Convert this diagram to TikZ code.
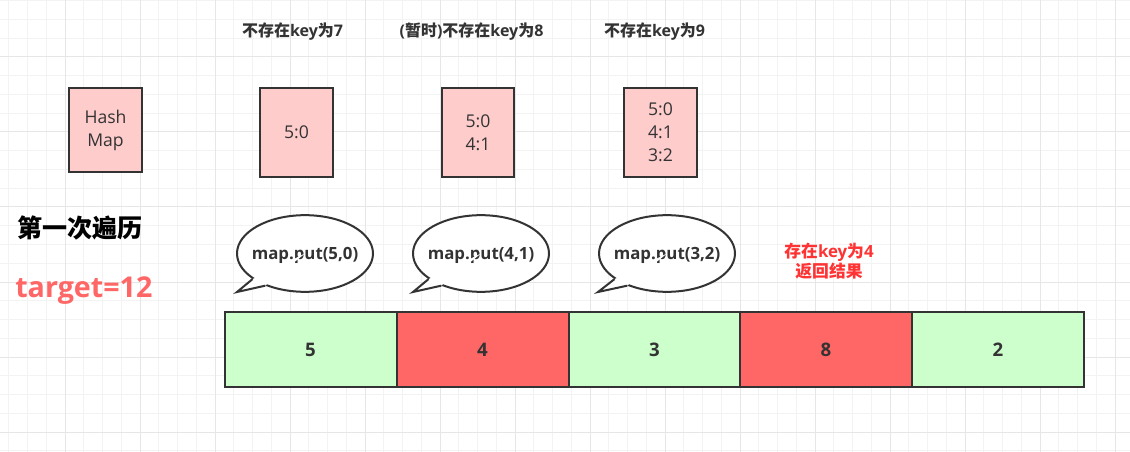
\documentclass[tikz,border=0pt]{standalone}
\usepackage{fontspec}
\setmainfont{Open Sans}
\newfontfamily\cjk{Noto Sans CJK SC}
\usetikzlibrary{shapes.geometric}
\definecolor{dk}{HTML}{333333}
\definecolor{pinkf}{HTML}{FFCCCC}
\definecolor{greenf}{HTML}{CCFFCC}
\definecolor{redf}{HTML}{FF6666}
\definecolor{redt}{HTML}{FF3333}
\definecolor{gminor}{HTML}{F3F3F3}
\definecolor{gmajor}{HTML}{E6E6E6}
\tikzset{
  mapbox/.style={draw=dk, line width=1.5pt, fill=pinkf, minimum width=54.5pt, minimum height=66.5pt, align=center, text=dk, font=\fontsize{13.2}{17.3}\selectfont, inner sep=0pt},
  title/.style={text=dk, font=\fontsize{12}{14}\selectfont\bfseries, inner sep=0pt},
  bubble/.style={ellipse, draw=dk, line width=1.5pt, fill=white, minimum width=102pt, minimum height=57.5pt, inner sep=0pt},
  bubtext/.style={inner sep=0pt, text=dk, font=\fontsize{12.6}{16}\selectfont\bfseries},
  cell/.style={draw=dk, line width=1.5pt, minimum width=129pt, minimum height=56pt, inner sep=0pt, text=dk, font=\fontsize{14}{16}\selectfont\bfseries},
}
\begin{document}
\begin{tikzpicture}[x=0.75pt,y=-0.75pt]
\useasboundingbox (0,0) rectangle (1130,452);
\fill[white] (0,0) rectangle (1130,452);
% grid
\foreach \i in {0,...,60} {
  \draw[gminor, line width=0.75pt] ({8.75+18.75*\i},0) -- ({8.75+18.75*\i},452);
}
\foreach \i in {0,...,24} {
  \draw[gminor, line width=0.75pt] (0,{0.75+18.75*\i}) -- (1130,{0.75+18.75*\i});
}
\foreach \i in {0,...,15} {
  \draw[gmajor, line width=0.75pt] ({65+75*\i},0) -- ({65+75*\i},452);
}
\foreach \i in {0,...,5} {
  \draw[gmajor, line width=0.75pt] (0,{57+75*\i}) -- (1130,{57+75*\i});
}
% titles
\node[title] (t1) at (292.5,32) {{\cjk 不存在}key{\cjk 为}7};
\node[title] (t2) at (471.5,32) {({\cjk 暂时}){\cjk 不存在}key{\cjk 为}8};
\node[title] (t3) at (654.5,32) {{\cjk 不存在}key{\cjk 为}9};
% map boxes
\node[mapbox, minimum height=63pt] (hm) at (105.5,130) {Hash\\Map};
\node[mapbox] (m1) at (296.5,132.5) {5:0};
\node[mapbox] (m2) at (478,132.5) {5:0\\4:1};
\node[mapbox] (m3) at (660.5,132.5) {5:0\\4:1\\3:2};
% left labels
\node[anchor=west, inner sep=0pt, font=\fontsize{18.8}{21}\selectfont\bfseries\cjk] (lbl) at (17,228) {第一次遍历};
\node[anchor=west, inner sep=0pt, text=redf, font=\fontsize{21.5}{24}\selectfont\bfseries] (tg) at (15,291) {target=12};
% bubbles
\node[bubble, label={[bubtext, yshift=-1.5pt]center:{map.put(5,0)}}] (b1) at (305,253.5) {};
\node[bubble, label={[bubtext, yshift=-1.5pt]center:{map.put(4,1)}}] (b2) at (481,253.5) {};
\node[bubble, label={[bubtext, yshift=-1.5pt]center:{map.put(3,2)}}] (b3) at (667,253.5) {};
\foreach \b/\tx in {b1/237,b2/413,b3/598} {
  \coordinate (\b tip) at (\tx,292);
  \fill[white] (\b.206) -- (\b tip) -- (\b.219) -- (\b.center) -- cycle;
  \draw[dk, line width=1.5pt, line join=miter] (\b.206) -- (\b tip) -- (\b.219);
}
% result text
\node[text=redt, align=center, inner sep=0pt, font=\fontsize{12.6}{15}\selectfont\bfseries] (res) at (829,261.5) {{\cjk 存在}key{\cjk 为}4\\{\cjk 返回结果}};
% array
\node[cell, fill=greenf] (c1) at (310.5,349.5) {5};
\node[cell, fill=redf] (c2) at (482.5,349.5) {4};
\node[cell, fill=greenf] (c3) at (654.5,349.5) {3};
\node[cell, fill=redf] (c4) at (826,349.5) {8};
\node[cell, fill=greenf] (c5) at (998,349.5) {2};
\end{tikzpicture}
\end{document}
